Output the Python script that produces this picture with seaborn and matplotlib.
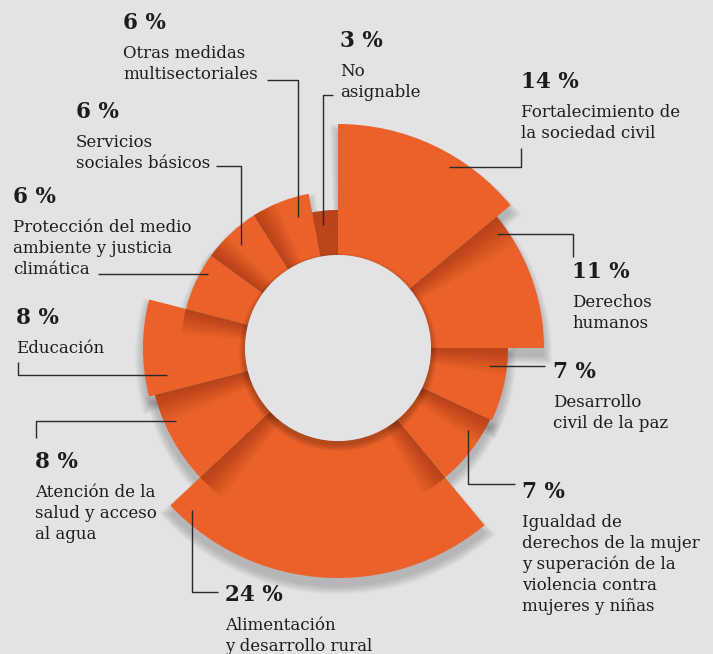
import numpy as np
import matplotlib
matplotlib.use('Agg')
import matplotlib.pyplot as plt
import matplotlib.transforms as mtransforms
from matplotlib.lines import Line2D
import seaborn as sns

# data (clockwise from 12 o'clock)
categories = [
    'Fortalecimiento de\nla sociedad civil',
    'Derechos\nhumanos',
    'Desarrollo\ncivil de la paz',
    'Igualdad de\nderechos de la mujer\ny superación de la\nviolencia contra\nmujeres y niñas',
    'Alimentación\ny desarrollo rural',
    'Atención de la\nsalud y acceso\nal agua',
    'Educación',
    'Protección del medio\nambiente y justicia\nclimática',
    'Servicios\nsociales básicos',
    'Otras medidas\nmultisectoriales',
    'No\nasignable',
]
shares = [14, 11, 7, 7, 24, 8, 8, 6, 6, 6, 3]

# design: outer radius of each segment (px), hole radius
outer_r = [224, 206, 170, 168, 230, 189, 195, 157, 157, 157, 138]
inner_r = 93
# which neighbour receives the shadow at each boundary (i | i+1)
shadow_on = [1, 2, 3, 4, 4, 5, 6, 8, 9, 10, 10]

# label layout in pixels: x, baseline of first text line
label_pos = [(521, 117), (572, 307), (553, 407), (522, 527), (225, 630),
             (35, 497), (16, 353), (13, 232), (76, 147), (123, 58), (340, 76)]
leaders = [
    [(449, 167), (521, 167), (521, 148)],
    [(497, 234), (573, 234), (573, 257)],
    [(489, 366), (545, 366)],
    [(468, 430), (468, 484), (515, 484)],
    [(192, 510), (192, 592), (218, 592)],
    [(176, 421), (36, 421), (36, 438)],
    [(167, 375), (18, 375), (18, 362)],
    [(208, 274), (98, 274)],
    [(241, 245), (241, 166), (216, 166)],
    [(298, 217), (298, 80), (267, 80)],
    [(323, 225), (323, 95), (333, 95)],
]

BG = '#E3E3E5'
ORANGE = '#EB6129'
INK = '#1c1c1c'
W, H = 713, 654

sns.set_theme(style='white', rc={'figure.facecolor': BG, 'axes.facecolor': 'none'})
plt.rcParams['font.family'] = ['DejaVu Serif', 'DejaVu Sans']

fig = plt.figure(figsize=(W / 100, H / 100), dpi=100)
cx, cy, R = 338, 348, 240
ax = fig.add_axes([(cx - R) / W, 1 - (cy + R) / H, 2 * R / W, 2 * R / H], projection='polar')
ax.set_theta_zero_location('N')
ax.set_theta_direction(-1)
ax.set_ylim(0, R)
ax.set_axis_off()

frac = np.array(shares) / sum(shares)
widths = frac * 2 * np.pi
starts = np.concatenate([[0], np.cumsum(widths)[:-1]])
mids = starts + widths / 2
outer = np.array(outer_r)


def shifted(dy_px):
    return ax.transData + mtransforms.ScaledTranslation(0, -dy_px / 72, fig.dpi_scale_trans)


# soft drop shadow of the ring on the background (mostly below)
for k in range(10):
    grow = 0.9 * k
    bars = ax.bar(mids, outer - inner_r + grow, width=widths + 2 * grow / outer,
                  bottom=inner_r, color='black', alpha=0.018, linewidth=0)
    for p in bars:
        p.set_transform(shifted(6))
        p.set_clip_on(False)

# segments
ax.bar(mids, outer - inner_r, width=widths, bottom=inner_r, color=ORANGE, linewidth=0)

# shading where segments overlap
n = len(shares)
for i in range(n):
    j = shadow_on[i]
    other = i if j == (i + 1) % n else (i + 1) % n
    edge = starts[(i + 1) % n] if i < n - 1 else 2 * np.pi
    side = 1 if j == (i + 1) % n else -1
    if i == n - 1:
        edge, side = 2 * np.pi, -1
    top = min(outer[j], outer[other]) - inner_r
    for k in range(1, 18):
        w = np.radians(0.55 * k)
        ax.bar(edge + side * w / 2, top, width=w, bottom=inner_r,
               color='#4a1600', alpha=0.02, linewidth=0)

# shadow of the hole onto the ring, then the hole itself
for k in range(7):
    hs = ax.bar(0, inner_r + k * 1.0, width=2 * np.pi, bottom=0,
                color='black', alpha=0.035, linewidth=0)
    for p in hs:
        p.set_transform(shifted(3))
ax.bar(0, inner_r, width=2 * np.pi, bottom=0, color=BG, linewidth=0)


def fx(x, y):
    return x / W, 1 - y / H


# labels
for cat, val, (x, y) in zip(categories, shares, label_pos):
    fig.text(*fx(x, y - 29), f'{val} %', fontsize=15.5, fontweight='bold',
             color=INK, va='baseline', ha='left')
    for li, line in enumerate(cat.split('\n')):
        fig.text(*fx(x, y + li * 21), line, fontsize=12, color=INK,
                 va='baseline', ha='left')

for pts in leaders:
    xs = [p[0] / W for p in pts]
    ys = [1 - p[1] / H for p in pts]
    fig.add_artist(Line2D(xs, ys, transform=fig.transFigure, color='#2a2a2a',
                          linewidth=1.0, solid_capstyle='butt'))

fig.savefig('out.png', dpi=100, facecolor=BG)
